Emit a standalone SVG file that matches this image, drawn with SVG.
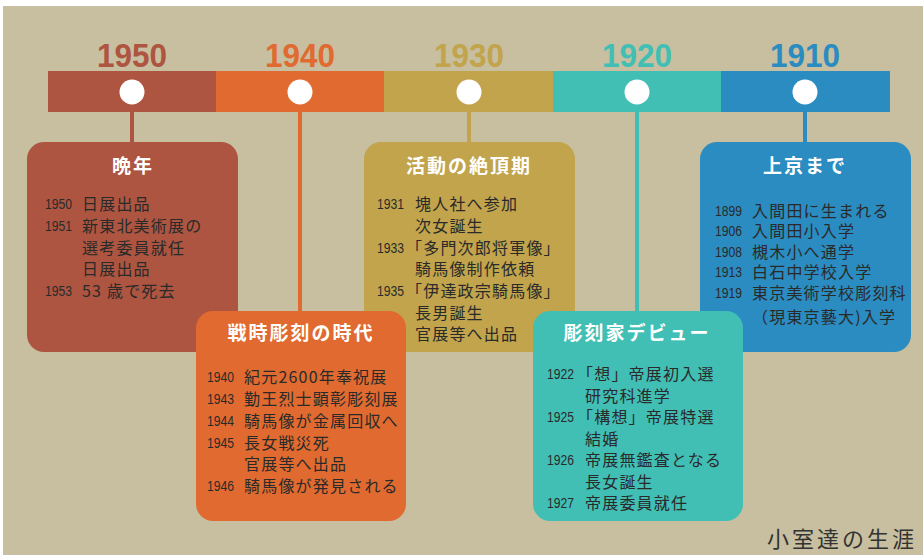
<svg xmlns="http://www.w3.org/2000/svg" width="923" height="555" viewBox="0 0 923 555">
<style>
.yr{font-family:"Liberation Sans",Arial,sans-serif;font-weight:bold;font-size:34px;text-anchor:middle}
.ttl{font-family:"Noto Sans CJK JP","Noto Sans",sans-serif;font-weight:bold;font-size:19px;fill:#fff;text-anchor:middle;letter-spacing:2px}
.y{font-family:"Liberation Sans",Arial,sans-serif;font-size:15.5px;fill:#2a2a2a}
.t{font-family:"Noto Sans CJK JP","Noto Sans",sans-serif;font-size:16px;fill:#2a2a2a;letter-spacing:1.2px}
.stem{stroke-width:4}
</style>
<rect x="0" y="0" width="923" height="555" fill="#ffffff"/>
<rect x="3" y="6" width="920" height="549" fill="#c7bf9f"/>

<g id="timeline">
<rect x="48" y="71" width="169" height="41" fill="#ad5540"/>
<rect x="216" y="71" width="169" height="41" fill="#e06a2f"/>
<rect x="384" y="71" width="170" height="41" fill="#c1a44b"/>
<rect x="553" y="71" width="169" height="41" fill="#41bfb5"/>
<rect x="721" y="71" width="169" height="41" fill="#2a8cc1"/>
<text class="yr" x="132" y="67" fill="#ad5540" textLength="70" lengthAdjust="spacingAndGlyphs">1950</text>
<text class="yr" x="300" y="67" fill="#e06a2f" textLength="70" lengthAdjust="spacingAndGlyphs">1940</text>
<text class="yr" x="469" y="67" fill="#c1a44b" textLength="70" lengthAdjust="spacingAndGlyphs">1930</text>
<text class="yr" x="637" y="67" fill="#41bfb5" textLength="70" lengthAdjust="spacingAndGlyphs">1920</text>
<text class="yr" x="805" y="67" fill="#2a8cc1" textLength="70" lengthAdjust="spacingAndGlyphs">1910</text>
</g>

<g id="connectors">
<line class="stem" x1="132" y1="104" x2="132" y2="144" stroke="#ad5540"/>
<line class="stem" x1="300" y1="104" x2="300" y2="313" stroke="#e06a2f"/>
<line class="stem" x1="469" y1="104" x2="469" y2="144" stroke="#c1a44b"/>
<line class="stem" x1="637" y1="104" x2="637" y2="313" stroke="#41bfb5"/>
<line class="stem" x1="805" y1="104" x2="805" y2="144" stroke="#2a8cc1"/>
<ellipse cx="132" cy="92" rx="12.5" ry="12.5" fill="#fff"/>
<ellipse cx="300" cy="92" rx="12.5" ry="12.5" fill="#fff"/>
<ellipse cx="469" cy="92" rx="12.5" ry="12.5" fill="#fff"/>
<ellipse cx="637" cy="92" rx="12.5" ry="12.5" fill="#fff"/>
<ellipse cx="805" cy="92" rx="12.5" ry="12.5" fill="#fff"/>
</g>

<g id="box-1950">
<rect x="27" y="142" width="211" height="210" rx="17" fill="#ad5540"/>
<text class="ttl" x="133" y="173">晩年</text>
<text class="y" x="45" y="209" textLength="27" lengthAdjust="spacingAndGlyphs">1950</text>
<text class="t" x="82" y="210">日展出品</text>
<text class="y" x="45" y="231" textLength="27" lengthAdjust="spacingAndGlyphs">1951</text>
<text class="t" x="82" y="232">新東北美術展の</text>
<text class="t" x="82" y="254">選考委員就任</text>
<text class="t" x="82" y="275">日展出品</text>
<text class="y" x="45" y="296" textLength="27" lengthAdjust="spacingAndGlyphs">1953</text>
<text class="t" x="82" y="297">53 歳で死去</text>
</g>

<g id="box-1930">
<rect x="364" y="142" width="211" height="210" rx="17" fill="#c1a44b"/>
<text class="ttl" x="469" y="173">活動の絶頂期</text>
<text class="y" x="377" y="209" textLength="27" lengthAdjust="spacingAndGlyphs">1931</text>
<text class="t" x="415" y="210">塊人社へ参加</text>
<text class="t" x="415" y="232">次女誕生</text>
<text class="y" x="377" y="253" textLength="27" lengthAdjust="spacingAndGlyphs">1933</text>
<text class="t" x="406" y="254">「多門次郎将軍像」</text>
<text class="t" x="415" y="275">騎馬像制作依頼</text>
<text class="y" x="377" y="296" textLength="27" lengthAdjust="spacingAndGlyphs">1935</text>
<text class="t" x="406" y="297">「伊達政宗騎馬像」</text>
<text class="t" x="415" y="319">長男誕生</text>
<text class="t" x="415" y="340">官展等へ出品</text>
</g>

<g id="box-1910">
<rect x="700" y="142" width="211" height="210" rx="17" fill="#2a8cc1"/>
<text class="ttl" x="805" y="173">上京まで</text>
<text class="y" x="715" y="216" textLength="27" lengthAdjust="spacingAndGlyphs">1899</text>
<text class="t" x="752" y="217">入間田に生まれる</text>
<text class="y" x="715" y="236" textLength="27" lengthAdjust="spacingAndGlyphs">1906</text>
<text class="t" x="752" y="237">入間田小入学</text>
<text class="y" x="715" y="257" textLength="27" lengthAdjust="spacingAndGlyphs">1908</text>
<text class="t" x="752" y="258">槻木小へ通学</text>
<text class="y" x="715" y="277" textLength="27" lengthAdjust="spacingAndGlyphs">1913</text>
<text class="t" x="752" y="278">白石中学校入学</text>
<text class="y" x="715" y="298" textLength="27" lengthAdjust="spacingAndGlyphs">1919</text>
<text class="t" x="752" y="299">東京美術学校彫刻科</text>
<text class="t" x="752" y="323">（現東京藝大)入学</text>
</g>

<g id="box-1940">
<rect x="196" y="311" width="210" height="210" rx="17" fill="#e06a2f"/>
<text class="ttl" x="301" y="340">戦時彫刻の時代</text>
<text class="y" x="207" y="382" textLength="27" lengthAdjust="spacingAndGlyphs">1940</text>
<text class="t" x="244" y="383" letter-spacing="0.8">紀元2600年奉祝展</text>
<text class="y" x="207" y="404" textLength="27" lengthAdjust="spacingAndGlyphs">1943</text>
<text class="t" x="244" y="405" letter-spacing="0.6">勤王烈士顕彰彫刻展</text>
<text class="y" x="207" y="426" textLength="27" lengthAdjust="spacingAndGlyphs">1944</text>
<text class="t" x="244" y="427" letter-spacing="0.6">騎馬像が金属回収へ</text>
<text class="y" x="207" y="448" textLength="27" lengthAdjust="spacingAndGlyphs">1945</text>
<text class="t" x="244" y="449">長女戦災死</text>
<text class="t" x="244" y="470">官展等へ出品</text>
<text class="y" x="207" y="491" textLength="27" lengthAdjust="spacingAndGlyphs">1946</text>
<text class="t" x="244" y="492" letter-spacing="0.6">騎馬像が発見される</text>
</g>

<g id="box-1920">
<rect x="533" y="311" width="210" height="210" rx="17" fill="#41bfb5"/>
<text class="ttl" x="637" y="340">彫刻家デビュー</text>
<text class="y" x="547" y="379" textLength="27" lengthAdjust="spacingAndGlyphs">1922</text>
<text class="t" x="577" y="380">「想」帝展初入選</text>
<text class="t" x="585" y="402">研究科進学</text>
<text class="y" x="547" y="422" textLength="27" lengthAdjust="spacingAndGlyphs">1925</text>
<text class="t" x="577" y="423">「構想」帝展特選</text>
<text class="t" x="585" y="445">結婚</text>
<text class="y" x="547" y="465" textLength="27" lengthAdjust="spacingAndGlyphs">1926</text>
<text class="t" x="585" y="466">帝展無鑑査となる</text>
<text class="t" x="585" y="488">長女誕生</text>
<text class="y" x="547" y="508" textLength="27" lengthAdjust="spacingAndGlyphs">1927</text>
<text class="t" x="585" y="509">帝展委員就任</text>
</g>

<g id="footer">
<text x="767" y="547" font-family="'Noto Sans CJK JP','Noto Sans',sans-serif" font-size="22" letter-spacing="3" fill="#333">小室達の生涯</text>
</g>
</svg>
